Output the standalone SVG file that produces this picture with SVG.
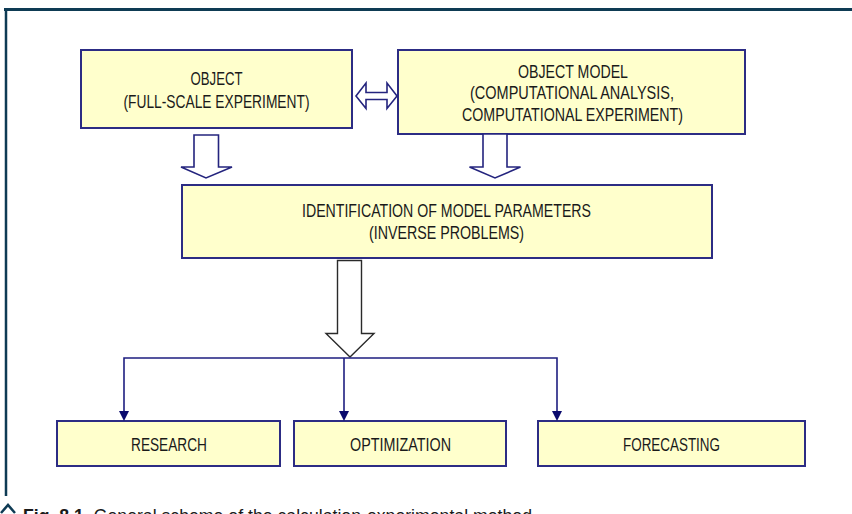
<svg xmlns="http://www.w3.org/2000/svg" width="852" height="514" viewBox="0 0 852 514">
<style>
.box{fill:#ffffcc;stroke:#2c2c84;stroke-width:2}
.t{font-family:"Liberation Sans","DejaVu Sans",sans-serif;font-size:18px;fill:#1a1a1a;text-anchor:middle}
.blk{fill:#ffffff;stroke:#24247e;stroke-width:1.6;stroke-linejoin:miter}
.ln{fill:none;stroke:#1e1e80;stroke-width:1.6}
.hd{fill:#0a0a6e}
.cap{font-family:"Liberation Sans","DejaVu Sans",sans-serif;font-size:19px;fill:#1a1a1a}
</style>
<rect x="0" y="0" width="852" height="514" fill="#ffffff"/>
<g id="frame">
<line x1="4" y1="9.5" x2="852" y2="9.5" stroke="#0e3b54" stroke-width="3"/>
<line x1="6" y1="9" x2="6" y2="496" stroke="#0e3b54" stroke-width="2.5"/>
</g>
<g id="object">
<rect class="box" x="81" y="50" width="271" height="78"/>
<text class="t" x="216.5" y="85" textLength="52" lengthAdjust="spacingAndGlyphs">OBJECT</text>
<text class="t" x="216.5" y="108" textLength="186" lengthAdjust="spacingAndGlyphs">(FULL-SCALE EXPERIMENT)</text>
</g>
<g id="object-model">
<rect class="box" x="398" y="50" width="347" height="84"/>
<text class="t" x="573" y="78" textLength="110" lengthAdjust="spacingAndGlyphs">OBJECT MODEL</text>
<text class="t" x="572" y="99" textLength="204" lengthAdjust="spacingAndGlyphs">(COMPUTATIONAL ANALYSIS,</text>
<text class="t" x="572.5" y="121" textLength="221" lengthAdjust="spacingAndGlyphs">COMPUTATIONAL EXPERIMENT)</text>
</g>
<g id="identification">
<rect class="box" x="182" y="185" width="530" height="73"/>
<text class="t" x="446.5" y="217" textLength="289" lengthAdjust="spacingAndGlyphs">IDENTIFICATION OF MODEL PARAMETERS</text>
<text class="t" x="446.5" y="239" textLength="155" lengthAdjust="spacingAndGlyphs">(INVERSE PROBLEMS)</text>
</g>
<g id="research">
<rect class="box" x="57" y="421" width="223" height="45"/>
<text class="t" x="169" y="450.5" textLength="76" lengthAdjust="spacingAndGlyphs">RESEARCH</text>
</g>
<g id="optimization">
<rect class="box" x="294" y="421" width="212" height="45"/>
<text class="t" x="400.5" y="450.5" textLength="101" lengthAdjust="spacingAndGlyphs">OPTIMIZATION</text>
</g>
<g id="forecasting">
<rect class="box" x="538" y="421" width="267" height="45"/>
<text class="t" x="671.5" y="450.5" textLength="97" lengthAdjust="spacingAndGlyphs">FORECASTING</text>
</g>
<g id="connectors">
<polygon class="blk" points="356,96 366,83 366,92.5 387,92.5 387,83 397,96 387,108.5 387,99.5 366,99.5 366,108.5"/>
<polygon class="blk" points="194,135 218.5,135 218.5,167 232,167 206,178 181,167 194,167"/>
<polygon class="blk" points="483,134 507,134 507,167 520.5,167 495,178 469.5,167 483,167"/>
<polygon points="337.5,260.5 361.5,260.5 361.5,333.5 374,333.5 350,357 326,333.5 337.5,333.5" fill="#ffffff" stroke="#2a2a2a" stroke-width="1.4"/>
<polyline class="ln" points="124,412 124,358 557,358 557,412"/>
<line class="ln" x1="344" y1="358" x2="344" y2="412"/>
<polygon class="hd" points="119,411 129,411 124,421"/>
<polygon class="hd" points="339,411 349,411 344,421"/>
<polygon class="hd" points="552,411 562,411 557,421"/>
</g>
<g id="caption">
<polyline points="1,513 8,505 15,513" fill="none" stroke="#0e3b54" stroke-width="2.5"/>
<text class="cap" x="23" y="522" textLength="509" lengthAdjust="spacingAndGlyphs"><tspan font-weight="bold">Fig. 8.1.</tspan> General scheme of the calculation-experimental method</text>
</g>
</svg>
